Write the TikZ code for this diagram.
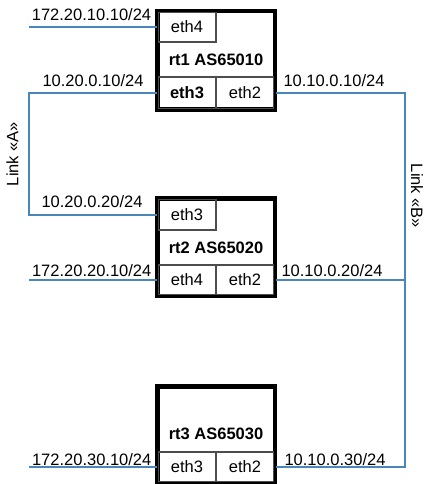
\documentclass[tikz,border=0pt]{standalone}
\usepackage{fontspec}
\setmainfont{Liberation Sans}
\begin{document}
\begin{tikzpicture}[x=1pt,y=-1pt,
  every node/.style={font=\fontsize{16.5}{19}\selectfont},
  link/.style={draw=linkblue,line width=2pt},
  rbox/.style={draw=black,line width=3pt,fill=white,minimum width=116pt,inner sep=0pt},
  cell/.style={draw=cellgray,line width=1.5pt,minimum width=58pt,inner sep=0pt},
  lbl/.style={inner sep=0pt},
  ttl/.style={inner sep=0pt,font=\fontsize{16.5}{19}\selectfont\bfseries}]
\definecolor{linkblue}{HTML}{4A86B8}
\definecolor{cellgray}{HTML}{4D4D4D}
\useasboundingbox (0,0) rectangle (430,484);
% coordinates for link ends
\coordinate (l1) at (29,27);
\coordinate (aA1) at (29,93);
\coordinate (aA2) at (29,214.5);
\coordinate (l2) at (29,280);
\coordinate (l3) at (29,467);
\coordinate (bB1) at (405,93);
\coordinate (bB2) at (405,280);
\coordinate (bB3) at (405,467);
% router boxes
\node[rbox,minimum height=97pt] (rt1) at (216,60.5) {};
\node[rbox,minimum height=96pt] (rt2) at (216,247) {};
\node[rbox,minimum height=95pt] (rt3) at (216,434.5) {};
% cells rt1
\node[cell,minimum height=30pt] (r1e4) at (187,27) {eth4};
\node[cell,minimum height=32pt] (r1e3) at (187,93) {\bfseries eth3};
\node[cell,minimum height=32pt] (r1e2) at (245,93) {eth2};
\node[ttl] (r1t) at (216,60) {rt1 AS65010};
% cells rt2
\node[cell,minimum height=31pt] (r2e3) at (187,214.5) {eth3};
\node[cell,minimum height=30pt] (r2e4) at (187,280) {eth4};
\node[cell,minimum height=30pt] (r2e2) at (245,280) {eth2};
\node[ttl] (r2t) at (216,247.5) {rt2 AS65020};
% cells rt3
\node[cell,minimum height=30pt] (r3e3) at (187,467) {eth3};
\node[cell,minimum height=30pt] (r3e2) at (245,467) {eth2};
\node[ttl] (r3t) at (216,434) {rt3 AS65030};
% redraw outer borders on top
\draw[line width=3pt] (rt1.north west) rectangle (rt1.south east);
\draw[line width=3pt] (rt2.north west) rectangle (rt2.south east);
\draw[line width=3pt] (rt3.north west) rectangle (rt3.south east);
% links
\draw[link] (l1) -- (rt1.west |- r1e4);
\draw[link] (rt1.west |- r1e3) -- (aA1) -- (aA2) -- (rt2.west |- r2e3);
\draw[link] (l2) -- (rt2.west |- r2e4);
\draw[link] (l3) -- (rt3.west |- r3e3);
\draw[link] (rt1.east |- r1e2) -- (bB1) -- (bB3) -- (rt3.east |- r3e2);
\draw[link] (rt2.east |- r2e2) -- (bB2);
% address labels
\node[lbl] (a1) at (91.5,15) {172.20.10.10/24};
\node[lbl] (a2) at (93,81) {10.20.0.10/24};
\node[lbl] (a3) at (334,81) {10.10.0.10/24};
\node[lbl] (a4) at (92,202) {10.20.0.20/24};
\node[lbl] (a5) at (91.7,271) {172.20.20.10/24};
\node[lbl] (a6) at (332,271) {10.10.0.20/24};
\node[lbl] (a7) at (91.7,460) {172.20.30.10/24};
\node[lbl] (a8) at (335,460) {10.10.0.30/24};
\node[lbl,rotate=90] (lA) at (12.5,154) {Link «A»};
\node[lbl,rotate=-90] (lB) at (417,196) {Link «B»};
\end{tikzpicture}
\end{document}
